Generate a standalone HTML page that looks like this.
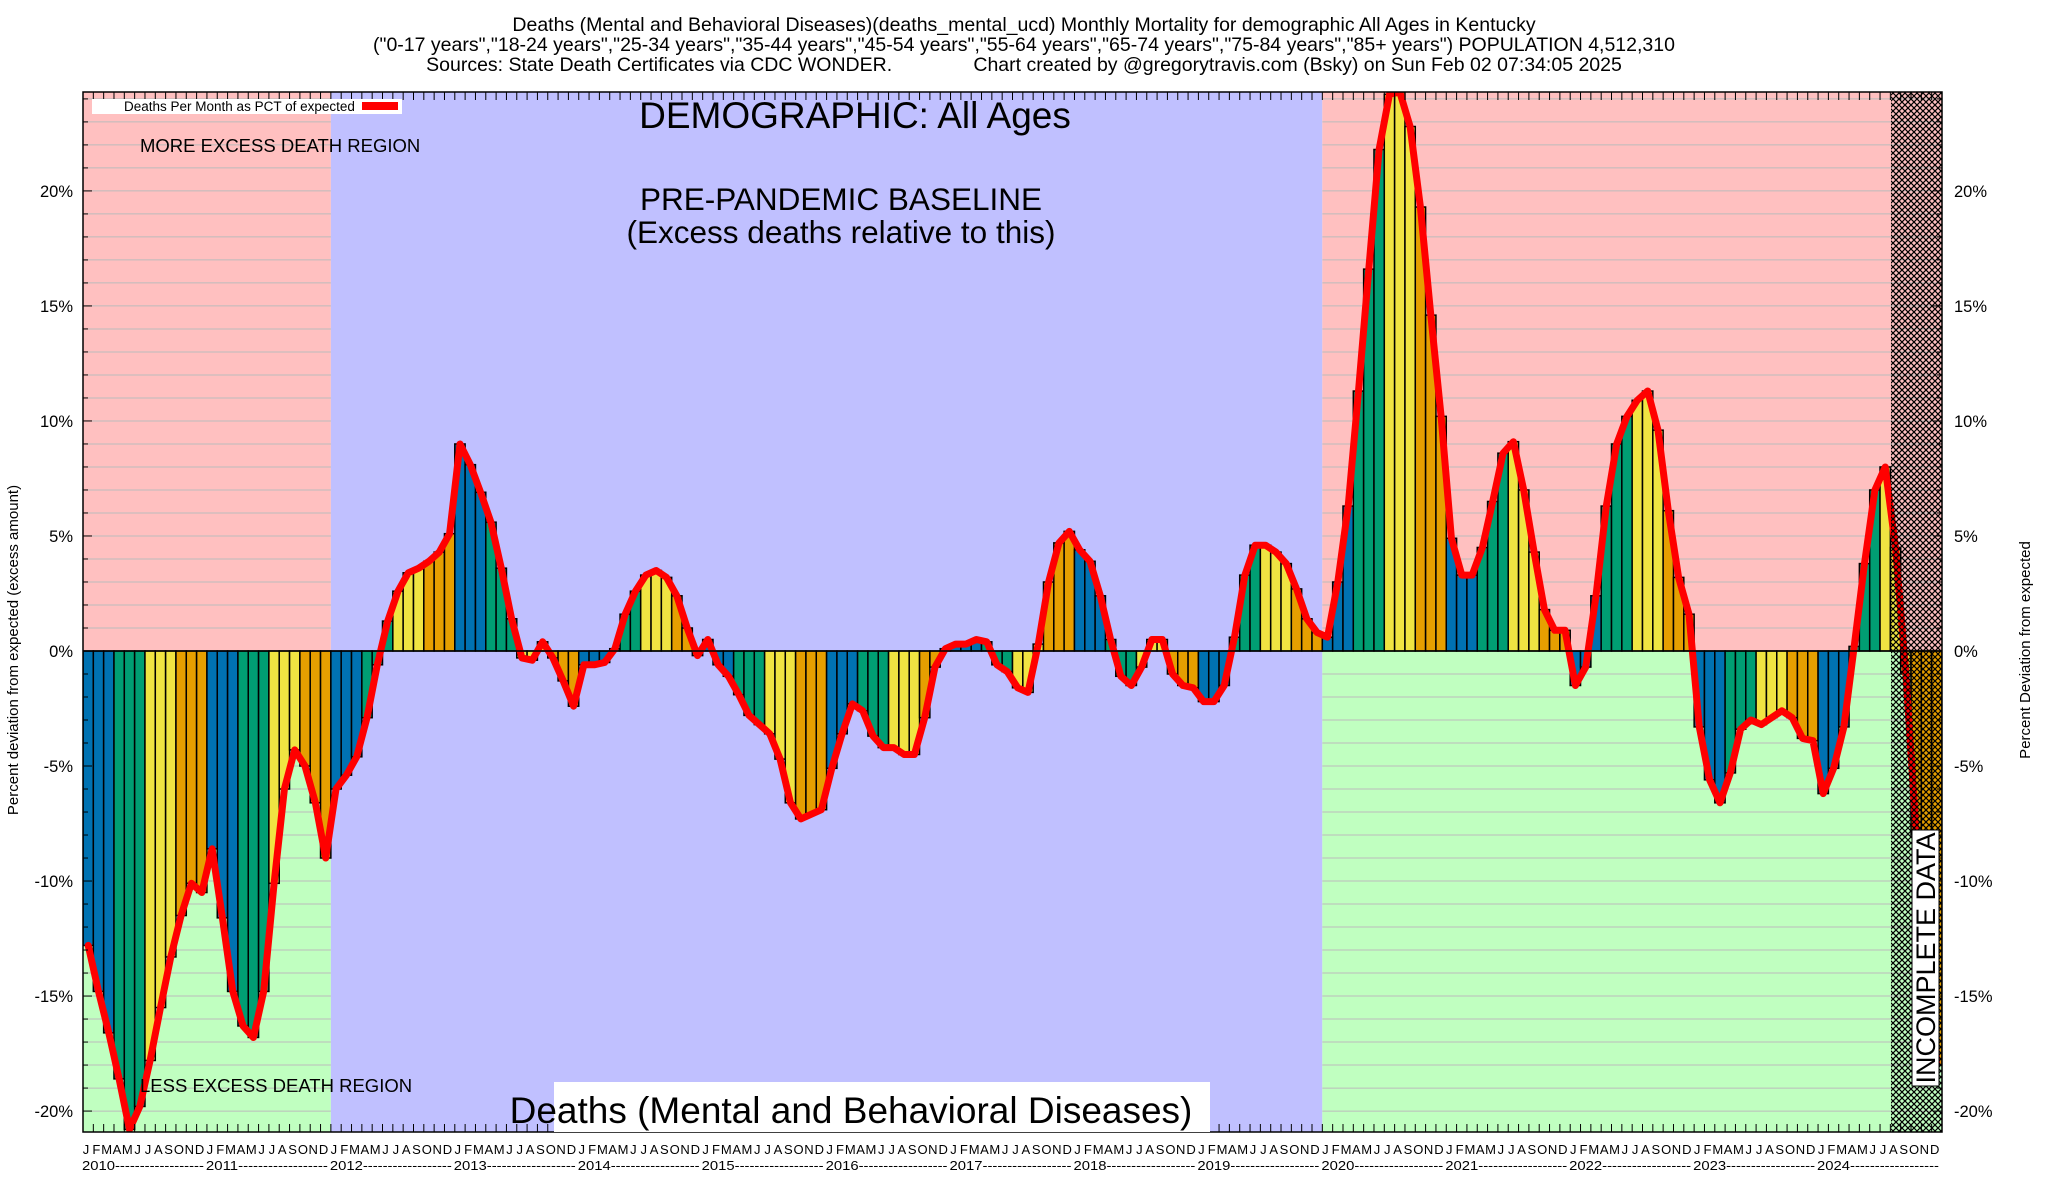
<!DOCTYPE html>
<html><head><meta charset="utf-8"><style>
html,body{margin:0;padding:0;background:#fff}
svg{display:block;font-family:"Liberation Sans",sans-serif}
</style></head><body>
<svg id="chart" width="2048" height="1200" viewBox="0 0 2048 1200" xmlns="http://www.w3.org/2000/svg">
<defs>
<pattern id="hatch" patternUnits="userSpaceOnUse" width="6" height="6">
<path d="M0,0 L6,6 M6,0 L0,6" stroke="#000" stroke-width="1.2"/>
</pattern>
<clipPath id="plotclip"><rect x="83" y="92" width="1859" height="1040"/></clipPath>
</defs>
<g font-size="19.5" text-anchor="middle" fill="#000">
<text x="1024" y="31">Deaths (Mental and Behavioral Diseases)(deaths_mental_ucd) Monthly Mortality for demographic All Ages in Kentucky</text>
<text x="1024" y="51">("0-17 years","18-24 years","25-34 years","35-44 years","45-54 years","55-64 years","65-74 years","75-84 years","85+ years") POPULATION 4,512,310</text>
<text x="1024" y="71" xml:space="preserve">Sources: State Death Certificates via CDC WONDER.               Chart created by @gregorytravis.com (Bsky) on Sun Feb 02 07:34:05 2025</text>
</g>
<g id="bg"></g>
<g id="grid"></g>
<g id="bars" clip-path="url(#plotclip)"></g>
<g id="line" clip-path="url(#plotclip)"></g>
<rect x="1891" y="92" width="51" height="1040" fill="url(#hatch)"/>
<g id="axes"></g>
<g>
<rect x="92" y="99" width="310" height="15" fill="#fff"/>
<text x="124" y="111" font-size="13.5">Deaths Per Month as PCT of expected</text>
<rect x="362" y="102" width="36" height="8" fill="#f00"/>
</g>
<text x="140" y="152" font-size="18.5">MORE EXCESS DEATH REGION</text>
<text x="140" y="1092" font-size="18.5">LESS EXCESS DEATH REGION</text>
<text x="855" y="128" font-size="37" text-anchor="middle">DEMOGRAPHIC: All Ages</text>
<text x="841" y="210" font-size="31.5" text-anchor="middle">PRE-PANDEMIC BASELINE</text>
<text x="841" y="243" font-size="31.5" text-anchor="middle">(Excess deaths relative to this)</text>
<rect x="554" y="1082" width="656" height="50" fill="#fff"/>
<text x="851" y="1123" font-size="37" text-anchor="middle">Deaths (Mental and Behavioral Diseases)</text>
<g>
<rect x="1912" y="830" width="27" height="256" fill="#fff" stroke="#000" stroke-width="1"/>
<text x="0" y="0" font-size="27" text-anchor="middle" transform="translate(1935,958) rotate(-90)">INCOMPLETE DATA</text>
</g>
<text font-size="15" text-anchor="middle" transform="translate(18,650) rotate(-90)">Percent deviation from expected (excess amount)</text>
<text font-size="15" text-anchor="middle" transform="translate(2030,650) rotate(-90)">Percent Deviation from expected</text>
</svg>
<script>
const years = [2010,2011,2012,2013,2014,2015,2016,2017,2018,2019,2020,2021,2022,2023,2024];
const monthLetters = ["J","F","M","A","M","J","J","A","S","O","N","D"];
const yTicks = [-20,-15,-10,-5,0,5,10,15,20];
const pct2010 = [-12.8,-14.8,-16.6,-18.6,-20.8,-19.8,-17.8,-15.5,-13.3,-11.5,-10.1,-10.5];
const pct2011 = [-8.6,-11.6,-14.8,-16.3,-16.8,-14.8,-10.1,-6.0,-4.3,-5.0,-6.6,-9.0];
const pct2012 = [-6.0,-5.4,-4.6,-2.9,-0.6,1.3,2.6,3.4,3.6,3.9,4.3,5.1];
const pct2013 = [9.0,8.1,6.9,5.6,3.6,1.4,-0.3,-0.4,0.4,-0.3,-1.3,-2.4];
const pct2014 = [-0.6,-0.6,-0.5,0.1,1.6,2.6,3.3,3.5,3.2,2.4,1.0,-0.2];
const pct2015 = [0.5,-0.6,-1.1,-1.9,-2.8,-3.2,-3.6,-4.7,-6.6,-7.3,-7.1,-6.9];
const pct2016 = [-5.1,-3.6,-2.3,-2.6,-3.7,-4.2,-4.2,-4.5,-4.5,-2.9,-0.7,0.1];
const pct2017 = [0.3,0.3,0.5,0.4,-0.6,-0.9,-1.6,-1.8,0.3,3.0,4.7,5.2];
const pct2018 = [4.4,3.9,2.4,0.5,-1.1,-1.5,-0.7,0.5,0.5,-1.0,-1.5,-1.6];
const pct2019 = [-2.2,-2.2,-1.5,0.6,3.3,4.6,4.6,4.3,3.8,2.7,1.4,0.8];
const pct2020 = [0.6,3.0,6.3,11.3,16.6,21.8,24.2,24.3,22.8,19.3,14.6,10.2];
const pct2021 = [4.9,3.3,3.3,4.5,6.5,8.6,9.1,7.0,4.3,1.8,0.9,0.9];
const pct2022 = [-1.5,-0.7,2.4,6.3,9.0,10.2,10.9,11.3,9.6,6.1,3.2,1.6];
const pct2023 = [-3.3,-5.6,-6.6,-5.3,-3.4,-3.0,-3.2,-2.9,-2.6,-2.9,-3.8,-3.9];
const pct2024 = [-6.2,-5.1,-3.3,0.2,3.8,7.0,8.0,4.5,-1.0,-8.0,-8.0,-18.0];
const values = [].concat(pct2010,pct2011,pct2012,pct2013,pct2014,pct2015,pct2016,pct2017,pct2018,pct2019,pct2020,pct2021,pct2022,pct2023,pct2024);

const NS = "http://www.w3.org/2000/svg";
const X0 = 83, X1 = 1942, Y0 = 92, Y1 = 1132;
const YMIN = -20.91, YMAX = 24.3;
const N = values.length;
const bw = (X1 - X0) / N;
function xs(i){ return X0 + i * bw; }
function ys(v){ return Y1 - (v - YMIN) / (YMAX - YMIN) * (Y1 - Y0); }
function mk(tag, attrs, parent){
  const e = document.createElementNS(NS, tag);
  for (const k in attrs) e.setAttribute(k, attrs[k]);
  parent.appendChild(e);
  return e;
}
const bg = document.getElementById('bg');
const zero = ys(0);
const xPre = xs(24), xPan = xs(120);
let r;
r = mk('rect', {x:X0, y:Y0, width:xPre-X0, height:zero-Y0, fill:'#ffc0c0'}, bg);


r = mk('rect', {x:X0, y:zero, width:xPre-X0, height:Y1-zero, fill:'#c0ffc0'}, bg);


r = mk('rect', {x:xPre, y:Y0, width:xPan-xPre, height:Y1-Y0, fill:'#c0c0ff'}, bg);


r = mk('rect', {x:xPan, y:Y0, width:X1-xPan, height:zero-Y0, fill:'#ffc0c0'}, bg);


r = mk('rect', {x:xPan, y:zero, width:X1-xPan, height:Y1-zero, fill:'#c0ffc0'}, bg);



const grid = document.getElementById('grid');
for (let v = -20; v <= 24; v++) {
  let g1 = mk('line', {x1:X0, x2:xPre, y1:ys(v), y2:ys(v), stroke:'#bbbbbb', 'stroke-width':1}, grid);
  
  
  let g2 = mk('line', {x1:xPan, x2:X1, y1:ys(v), y2:ys(v), stroke:'#bbbbbb', 'stroke-width':1}, grid);
  
  
}

const colors = ['#0072b2','#009e73','#f0e442','#e69f00'];
const barsG = document.getElementById('bars');
values.forEach((v, i) => {
  const y = Math.min(ys(v), zero), h = Math.abs(ys(v) - zero);
  const b = mk('rect', {x:xs(i), y:y, width:bw, height:h, fill:colors[Math.floor((i%12)/3)], stroke:'#000', 'stroke-width':1.5}, barsG);
  
  
});
const pts = values.map((v, i) => (xs(i) + bw/2).toFixed(1) + ',' + ys(v).toFixed(1)).join(' ');
const pl = mk('polyline', {points:pts, fill:'none', stroke:'#ff0000', 'stroke-width':7, 'stroke-linejoin':'round', 'stroke-linecap':'round'}, document.getElementById('line'));



const ax = document.getElementById('axes');
const zl = mk('line', {x1:X0, x2:X1, y1:zero, y2:zero, stroke:'#000', 'stroke-width':1.5}, ax);


const frame = mk('rect', {x:X0, y:Y0, width:X1-X0, height:Y1-Y0, fill:'none', stroke:'#000', 'stroke-width':1.5}, ax);


for (let v = -20; v <= 24; v++) {
  const len = (v % 5 === 0) ? 9 : 5;
  const t1 = mk('line', {x1:X0, x2:X0+len, y1:ys(v), y2:ys(v), stroke:'#000', 'stroke-width':1}, ax);
  
  
  const t2 = mk('line', {x1:X1-len, x2:X1, y1:ys(v), y2:ys(v), stroke:'#000', 'stroke-width':1}, ax);
  
  
}
yTicks.forEach(v => {
  const l = mk('text', {x:X0-10, y:ys(v)+6, 'font-size':16.5, 'text-anchor':'end'}, ax);
  l.textContent = v + '%';
  
  
  const rl = mk('text', {x:X1+12, y:ys(v)+6, 'font-size':16.5}, ax);
  rl.textContent = v + '%';
  
  
});
for (let i = 0; i <= N; i++) {
  const x = xs(i);
  const a = mk('line', {x1:x, x2:x, y1:Y1, y2:Y1-8, stroke:'#000', 'stroke-width':1}, ax);
  
  
  const b = mk('line', {x1:x, x2:x, y1:Y0, y2:Y0+8, stroke:'#000', 'stroke-width':1}, ax);
  
  
}
for (let i = 0; i < N; i++) {
  const t = mk('text', {x:xs(i)+3, y:1154, 'font-size':13, 'text-anchor':'middle'}, ax);
  t.textContent = monthLetters[i % 12];
  
  
}
years.forEach((yr, k) => {
  const t = mk('text', {x:xs(k*12)-1, y:1170, 'font-size':13, textLength:(bw*12-2).toFixed(1), lengthAdjust:'spacingAndGlyphs'}, ax);
  t.textContent = yr + '------------------';
  
  
});
</script>
</body></html>
